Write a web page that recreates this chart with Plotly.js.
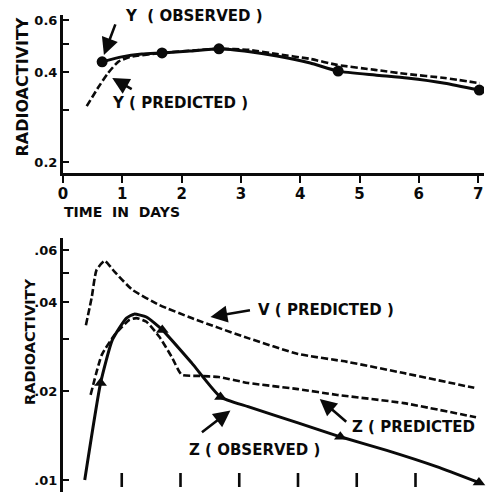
<!DOCTYPE html>
<html>
<head>
<meta charset="utf-8">
<script src="https://cdn.plot.ly/plotly-3.0.1.min.js"></script>
<style>
  html, body { margin: 0; padding: 0; background: #fff; }
  #chart { width: 486px; height: 492px; }
</style>
</head>
<body>
<div id="chart"></div>
<script>
// ---- Upper panel: Y radioactivity over time ----
const yObsDays = [0.66, 1.67, 2.63, 4.64, 7.02];
const yObsValues = [0.434, 0.465, 0.480, 0.404, 0.349];
// hand-drawn curve through the observed points
const yObsCurveDays = [0.66, 0.99, 1.33, 1.67, 2.14, 2.63, 3.15, 3.61, 4.17, 4.64, 5.26, 5.80, 6.44, 7.02];
const yObsCurveValues = [0.434, 0.451, 0.461, 0.465, 0.472, 0.480, 0.469, 0.454, 0.430, 0.404, 0.392, 0.383, 0.368, 0.349];
const yPredDays = [0.40, 0.59, 0.76, 0.93, 1.13, 1.67, 2.63, 3.15, 3.61, 4.17, 4.62, 5.26, 5.80, 6.44, 7.03];
const yPredValues = [0.308, 0.355, 0.398, 0.434, 0.451, 0.465, 0.480, 0.476, 0.461, 0.444, 0.424, 0.408, 0.395, 0.383, 0.368];

// ---- Lower panel: V and Z radioactivity over time ----
const vPredDays = [0.39, 0.49, 0.57, 0.71, 0.88, 1.18, 1.64, 2.19, 2.65, 3.15, 4.00, 4.84, 5.80, 7.00];
const vPredValues = [0.0334, 0.0416, 0.0513, 0.0551, 0.0506, 0.0440, 0.0391, 0.0353, 0.0327, 0.0302, 0.0267, 0.0251, 0.0230, 0.0205];
const zObsDays = [0.64, 1.69, 2.68, 4.72, 7.08];
const zObsValues = [0.0213, 0.0322, 0.0191, 0.0140, 0.0098];
const zObsCurveDays = [0.37, 0.64, 0.84, 1.08, 1.21, 1.42, 1.69, 2.19, 2.68, 3.15, 4.00, 4.72, 5.51, 6.36, 7.08];
const zObsCurveValues = [0.0100, 0.0213, 0.0298, 0.0353, 0.0364, 0.0356, 0.0322, 0.0249, 0.0191, 0.0177, 0.0156, 0.0140, 0.0126, 0.0111, 0.0098];
const zPredDays = [0.47, 0.66, 0.88, 1.13, 1.25, 1.42, 1.64, 1.85, 2.02, 2.31, 2.65, 3.15, 4.00, 4.67, 5.80, 7.03];
const zPredValues = [0.0194, 0.0265, 0.0310, 0.0348, 0.0353, 0.0343, 0.0305, 0.0261, 0.0227, 0.0225, 0.0223, 0.0213, 0.0203, 0.0194, 0.0182, 0.0163];

// axis ticks
const dayTicks = [0, 1, 2, 3, 4, 5, 6, 7];
const lowerDayTicks = [1, 2, 3, 4, 5, 6];
const lowerDayTickLevel = 0.01;   // the lower day ticks sit on the .01 line
const upperTickVals = [0.2, 0.3, 0.4, 0.5, 0.6];
const upperTickText = ['0.2', '', '0.4', '', '0.6'];
const lowerTickVals = [0.01, 0.02, 0.03, 0.04, 0.05, 0.06];
const lowerTickText = ['.01', '.02', '', '.04', '', '.06'];

const INK = '#0a0a0a';
const FAMILY = 'DejaVu Sans';
const solid = { color: INK, width: 3, shape: 'spline', smoothing: 0.5 };
const dashed = { color: INK, width: 2.6, dash: '7px,3px', shape: 'spline', smoothing: 0.5 };

const traces = [
  { x: yPredDays, y: yPredValues, xaxis: 'x', yaxis: 'y', mode: 'lines', line: dashed },
  { x: yObsCurveDays, y: yObsCurveValues, xaxis: 'x', yaxis: 'y', mode: 'lines', line: solid },
  { x: yObsDays, y: yObsValues, xaxis: 'x', yaxis: 'y', mode: 'markers',
    marker: { symbol: 'circle', size: 11, color: INK } },
  { x: vPredDays, y: vPredValues, xaxis: 'x2', yaxis: 'y2', mode: 'lines', line: dashed },
  { x: zPredDays, y: zPredValues, xaxis: 'x2', yaxis: 'y2', mode: 'lines', line: dashed },
  { x: zObsCurveDays, y: zObsCurveValues, xaxis: 'x2', yaxis: 'y2', mode: 'lines', line: solid },
  { x: zObsDays, y: zObsValues, xaxis: 'x2', yaxis: 'y2', mode: 'markers',
    marker: { symbol: 'triangle-up', size: 11, color: INK } },
  // short vertical day ticks of the lower panel
  { x: lowerDayTicks, y: lowerDayTicks.map(() => lowerDayTickLevel), xaxis: 'x2', yaxis: 'y2',
    mode: 'markers', hoverinfo: 'skip',
    marker: { symbol: 'line-ns', size: 10, color: INK, line: { width: 2.6, color: INK } } }
];

// pixel geometry: day 0 at 63px, 59.3px per day
const PX0 = 63, PX_PER_DAY = 59.3, W = 486, H = 492;
const xDom = (maxDay) => [PX0 / W, (PX0 + maxDay * PX_PER_DAY) / W];

function label(text, xref, yref, x, y, size) {
  return { text: text, xref: xref, yref: yref, x: x, y: Math.log10(y),
           xanchor: 'left', yanchor: 'middle', showarrow: false,
           font: { family: FAMILY, size: size || 15, color: INK, weight: 'bold' } };
}
function arrow(xref, yref, x, y, ax, ay) {
  return { text: '', xref: xref, yref: yref, x: x, y: Math.log10(y), ax: ax, ay: ay,
           showarrow: true, arrowhead: 2, arrowsize: 1.3, arrowwidth: 2.6,
           arrowcolor: INK, standoff: 0 };
}

const annotations = [
  label('Y  ( OBSERVED )', 'x', 'y', 1.01, 0.619),
  arrow('x', 'y', 0.69, 0.458, 12, -32),
  label('Y ( PREDICTED )', 'x', 'y', 0.79, 0.3145),
  arrow('x', 'y', 0.83, 0.383, 21, 12),
  label('V ( PREDICTED )', 'x2', 'y2', 3.29, 0.0376),
  arrow('x2', 'y2', 2.51, 0.0356, 41, -7),
  label('Z ( OBSERVED )', 'x2', 'y2', 2.11, 0.01263),
  arrow('x2', 'y2', 2.85, 0.0172, -30, 23),
  label('Z ( PREDICTED', 'x2', 'y2', 4.89, 0.01511),
  arrow('x2', 'y2', 4.37, 0.0188, 28, 24),
  { text: 'TIME  IN  DAYS', xref: 'paper', yref: 'paper', x: 62 / W, y: (H - 212) / H,
    xanchor: 'left', yanchor: 'middle', showarrow: false,
    font: { family: FAMILY, size: 14, color: INK, weight: 'bold' } },
  { text: 'RADIOACTIVITY', xref: 'paper', yref: 'paper', x: 22 / W, y: (H - 87.5) / H,
    textangle: -90, xanchor: 'center', yanchor: 'middle', showarrow: false,
    font: { family: FAMILY, size: 16, color: INK, weight: 'bold' } },
  { text: 'RADIOACTIVITY', xref: 'paper', yref: 'paper', x: 30 / W, y: (H - 342) / H,
    textangle: -90, xanchor: 'center', yanchor: 'middle', showarrow: false,
    font: { family: FAMILY, size: 14.5, color: INK, weight: 'bold' } }
];

const axisBase = { showgrid: false, zeroline: false, linecolor: INK, tickcolor: INK };
const lowerTop = (H - 238) / H;

const layout = {
  width: W, height: H,
  margin: { l: 0, r: 0, t: 0, b: 0 },
  paper_bgcolor: '#fff', plot_bgcolor: 'rgba(0,0,0,0)',
  showlegend: false,
  xaxis: Object.assign({}, axisBase, {
    domain: xDom(7.1), range: [0, 7.1], anchor: 'y',
    showline: true, linewidth: 3, ticks: 'outside', ticklen: 7, tickwidth: 2,
    ticklabelstandoff: -2,
    tickvals: dayTicks, tickfont: { family: FAMILY, size: 15, color: INK, weight: 'bold' }
  }),
  yaxis: Object.assign({}, axisBase, {
    domain: [(H - 173) / H, (H - 15) / H], type: 'log', range: [-0.736, -0.205], anchor: 'x',
    showline: true, linewidth: 3, ticks: 'inside', ticklen: 6, tickwidth: 2,
    tickvals: upperTickVals, ticktext: upperTickText,
    tickfont: { family: FAMILY, size: 13, color: INK, weight: 'bold' }
  }),
  xaxis2: Object.assign({}, axisBase, {
    domain: xDom(7.2), range: [0, 7.2], anchor: 'y2',
    showline: false, ticks: '', showticklabels: false
  }),
  yaxis2: Object.assign({}, axisBase, {
    domain: [0, lowerTop], type: 'log', range: [-2.0406, -1.1813], anchor: 'x2',
    showline: true, linewidth: 3, ticks: 'inside', ticklen: 6, tickwidth: 2,
    tickvals: lowerTickVals, ticktext: lowerTickText,
    tickfont: { family: FAMILY, size: 13, color: INK, weight: 'bold' }
  }),
  annotations: annotations
};

Plotly.newPlot('chart', traces, layout, { staticPlot: true, displayModeBar: false });
</script>
</body>
</html>
